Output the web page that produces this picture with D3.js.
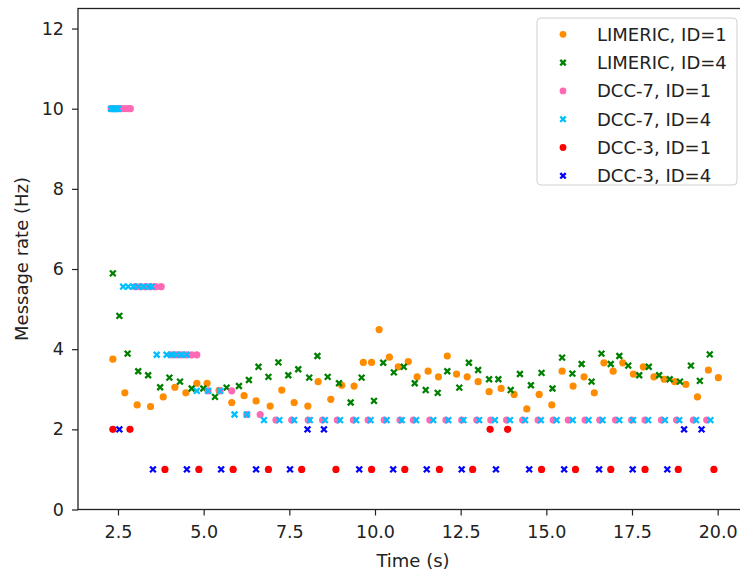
<!doctype html>
<html lang="en">
<head>
  <meta charset="utf-8">
  <script src="https://cdn.jsdelivr.net/npm/d3@7"></script>
</head>

<style>
    body {
        margin: 0;
        background-color: white;
    }

    svg {
        font-family: "DejaVu Sans", sans-serif;
    }
</style>

<body>
</body>

<script>

    // LIMERIC, per-vehicle message rate [time (s), rate (Hz)]
    let limericId1 = [
        [2.35, 3.75], [2.70, 2.91], [3.06, 2.61], [3.45, 2.57], [3.82, 2.81], [4.16, 3.05],
        [4.48, 2.91], [4.80, 3.15], [5.10, 3.15], [5.45, 2.97], [5.82, 2.67], [6.18, 2.84],
        [6.53, 2.71], [6.94, 2.58], [7.28, 2.98], [7.64, 2.67], [8.04, 2.58], [8.34, 3.19],
        [8.71, 2.75], [9.03, 3.10], [9.39, 3.08], [9.66, 3.67], [9.90, 3.67], [10.12, 4.49],
        [10.42, 3.80], [10.68, 3.56], [10.97, 3.69], [11.23, 3.31], [11.55, 3.45], [11.85, 3.31],
        [12.11, 3.83], [12.38, 3.38], [12.69, 3.31], [13.01, 3.19], [13.33, 2.94], [13.68, 3.02],
        [14.06, 2.87], [14.43, 2.51], [14.79, 2.87], [15.16, 2.61], [15.46, 3.45], [15.78, 3.08],
        [16.10, 3.31], [16.40, 2.91], [16.68, 3.66], [16.95, 3.45], [17.23, 3.66], [17.54, 3.38],
        [17.83, 3.56], [18.14, 3.31], [18.44, 3.25], [18.75, 3.19], [19.07, 3.12], [19.41, 2.81],
        [19.73, 3.48], [20.02, 3.29]
    ]

    let limericId4 = [
        [2.35, 5.89], [2.54, 4.83], [2.78, 3.89], [3.09, 3.45], [3.38, 3.35], [3.73, 3.05],
        [4.00, 3.29], [4.31, 3.19], [4.65, 3.02], [4.99, 3.02], [5.33, 2.81], [5.67, 3.04],
        [6.03, 3.08], [6.32, 3.23], [6.60, 3.56], [6.89, 3.31], [7.18, 3.67], [7.47, 3.35],
        [7.76, 3.50], [8.08, 3.29], [8.32, 3.83], [8.62, 3.31], [8.95, 3.15], [9.29, 2.67],
        [9.61, 3.29], [9.97, 2.71], [10.24, 3.66], [10.55, 3.42], [10.84, 3.56], [11.16, 3.15],
        [11.48, 2.98], [11.83, 2.91], [12.11, 3.45], [12.46, 3.04], [12.74, 3.66], [13.01, 3.48],
        [13.33, 3.25], [13.60, 3.25], [13.96, 2.98], [14.23, 3.38], [14.55, 3.10], [14.86, 3.41],
        [15.18, 3.02], [15.46, 3.79], [15.76, 3.39], [16.03, 3.63], [16.32, 3.19], [16.61, 3.89],
        [16.88, 3.63], [17.13, 3.83], [17.39, 3.59], [17.71, 3.35], [17.99, 3.56], [18.29, 3.35],
        [18.60, 3.25], [18.90, 3.19], [19.22, 3.59], [19.48, 3.21], [19.77, 3.87]
    ]

    // DCC-7
    let dcc7Id1 = [
        [2.30, 10.0], [2.40, 10.0], [2.50, 10.0], [2.60, 10.0], [2.70, 10.0], [2.80, 10.0], [2.86, 10.0],
        [3.00, 5.56], [3.15, 5.56], [3.30, 5.56], [3.45, 5.56], [3.60, 5.56], [3.76, 5.56],
        [4.06, 3.86], [4.20, 3.86], [4.35, 3.86], [4.50, 3.86], [4.65, 3.86], [4.80, 3.86],
        [5.13, 2.96], [5.48, 2.96], [5.82, 2.96],
        [6.26, 2.37], [6.65, 2.37],
        [7.11, 2.23], [7.57, 2.23], [8.05, 2.23], [8.47, 2.23], [8.90, 2.23], [9.37, 2.23],
        [9.80, 2.23], [10.27, 2.23], [10.73, 2.23], [11.12, 2.23], [11.60, 2.23], [12.07, 2.23],
        [12.53, 2.23], [12.97, 2.23], [13.38, 2.23], [13.84, 2.23], [14.31, 2.23], [14.76, 2.23],
        [15.20, 2.23], [15.64, 2.23], [16.13, 2.23], [16.56, 2.23], [17.02, 2.23], [17.49, 2.23],
        [17.88, 2.23], [18.36, 2.23], [18.80, 2.23], [19.29, 2.23], [19.68, 2.23]
    ]

    let dcc7Id4 = [
        [2.30, 10.0], [2.35, 10.0], [2.40, 10.0], [2.45, 10.0], [2.50, 10.0],
        [2.65, 5.56], [2.80, 5.56], [2.95, 5.56], [3.10, 5.56], [3.25, 5.56], [3.40, 5.56], [3.48, 5.56],
        [3.63, 3.86], [3.92, 3.86], [4.06, 3.86], [4.20, 3.86], [4.35, 3.86], [4.50, 3.86],
        [4.80, 2.96], [5.13, 2.96], [5.48, 2.96],
        [5.90, 2.37], [6.26, 2.37],
        [6.76, 2.23], [7.21, 2.23], [7.64, 2.23], [8.10, 2.23], [8.54, 2.23], [8.98, 2.23],
        [9.45, 2.23], [9.87, 2.23], [10.34, 2.23], [10.78, 2.23], [11.20, 2.23], [11.70, 2.23],
        [12.14, 2.23], [12.58, 2.23], [13.04, 2.23], [13.50, 2.23], [13.94, 2.23], [14.38, 2.23],
        [14.84, 2.23], [15.30, 2.23], [15.77, 2.23], [16.23, 2.23], [16.64, 2.23], [17.13, 2.23],
        [17.53, 2.23], [17.97, 2.23], [18.46, 2.23], [18.88, 2.23], [19.37, 2.23], [19.79, 2.23]
    ]

    // DCC-3
    let dcc3Id1 = [
        [2.35, 2], [2.85, 2], [3.87, 1], [4.86, 1], [5.86, 1], [6.89, 1], [7.86, 1], [8.86, 1],
        [9.90, 1], [10.87, 1], [11.88, 1], [12.85, 1], [13.36, 2], [13.87, 2], [14.86, 1],
        [15.85, 1], [16.88, 1], [17.88, 1], [18.85, 1], [19.89, 1]
    ]

    let dcc3Id4 = [
        [2.54, 2], [3.52, 1], [4.51, 1], [5.51, 1], [6.53, 1], [7.52, 1], [8.03, 2], [8.51, 2],
        [9.54, 1], [10.53, 1], [11.51, 1], [12.53, 1], [13.53, 1], [14.50, 1], [15.52, 1],
        [16.54, 1], [17.52, 1], [18.53, 1], [19.02, 2], [19.53, 2]
    ]

    let seriesNames = ['LIMERIC, ID=1', 'LIMERIC, ID=4', 'DCC-7, ID=1', 'DCC-7, ID=4', 'DCC-3, ID=1', 'DCC-3, ID=4']
    let seriesColors = ['#ff8c00', '#008000', '#ff69b4', '#00bfff', '#ff0000', '#0000ff']
    let seriesShapes = ['o', 'x', 'o', 'x', 'o', 'x']
    let seriesData = [limericId1, limericId4, dcc7Id1, dcc7Id4, dcc3Id1, dcc3Id4]

    let xTicks = [2.5, 5.0, 7.5, 10.0, 12.5, 15.0, 17.5, 20.0]
    let yTicks = [0, 2, 4, 6, 8, 10, 12]

    let width = 740, height = 570
    let plotLeft = 78, plotRight = 742, plotTop = 8.5, plotBottom = 509.5

    let x = d3.scaleLinear().domain([1.333, 20.71]).range([plotLeft, plotRight])
    let y = d3.scaleLinear().domain([0, 12.5]).range([plotBottom, plotTop])

    let svg = d3.select('body')
        .append('svg')
        .attr('width', width)
        .attr('height', height)

    let drawMarker = (sel, shape, color, r) => {
        if (shape == 'o') {
            sel.append('circle')
                .attr('r', r)
                .attr('fill', color)
        } else {
            let s = r * 0.8
            sel.append('path')
                .attr('d', `M${-s},${-s}L${s},${s}M${-s},${s}L${s},${-s}`)
                .attr('stroke', color)
                .attr('stroke-width', 2.3)
                .attr('fill', 'none')
        }
    }

    // points
    let plot = svg.append('g')
    seriesData.forEach((data, i) => {
        let g = plot.append('g')
        data.forEach(d => {
            let m = g.append('g').attr('transform', `translate(${x(d[0])},${y(d[1])})`)
            drawMarker(m, seriesShapes[i], seriesColors[i], 3.6)
        })
    })

    // axes
    let xAxis = svg.append('g')
        .attr('transform', `translate(0,${plotBottom})`)
        .call(d3.axisBottom(x).tickValues(xTicks).tickFormat(d3.format('.1f')).tickSizeOuter(0).tickSize(6).tickPadding(10))
    let yAxis = svg.append('g')
        .attr('transform', `translate(${plotLeft},0)`)
        .call(d3.axisLeft(y).tickValues(yTicks).tickFormat(d3.format('d')).tickSizeOuter(0).tickSize(6).tickPadding(8))

    for (let ax of [xAxis, yAxis]) {
        ax.select('.domain').remove()
        ax.selectAll('text')
            .style('font-size', '17.5px')
            .style('font-family', '"DejaVu Sans", sans-serif')
            .attr('fill', '#222')
        ax.selectAll('line').attr('stroke', '#222').attr('stroke-width', 1.2)
    }

    // spines
    svg.append('rect')
        .attr('x', plotLeft)
        .attr('y', plotTop)
        .attr('width', plotRight - plotLeft)
        .attr('height', plotBottom - plotTop)
        .attr('fill', 'none')
        .attr('stroke', '#222')
        .attr('stroke-width', 1.3)

    // axis labels
    svg.append('text')
        .attr('x', 413)
        .attr('y', 567)
        .attr('text-anchor', 'middle')
        .style('font-size', '18px')
        .attr('fill', '#222')
        .text('Time (s)')

    svg.append('text')
        .attr('transform', `translate(28,${(plotTop + plotBottom) / 2}) rotate(-90)`)
        .attr('text-anchor', 'middle')
        .style('font-size', '18px')
        .attr('fill', '#222')
        .text('Message rate (Hz)')

    // legend
    let legend = svg.append('g')
    legend.append('rect')
        .attr('x', 537)
        .attr('y', 18)
        .attr('width', 200)
        .attr('height', 167)
        .attr('rx', 4)
        .attr('fill', 'white')
        .attr('fill-opacity', 0.8)
        .attr('stroke', '#d0d0d0')

    seriesNames.forEach((name, i) => {
        let cy = 34.3 + i * 28.3
        let m = legend.append('g').attr('transform', `translate(563,${cy})`)
        drawMarker(m, seriesShapes[i], seriesColors[i], 3.4)
        legend.append('text')
            .attr('x', 597)
            .attr('y', cy + 6.5)
            .style('font-size', '18px')
            .attr('fill', '#222')
            .text(name)
    })

</script>

</html>
